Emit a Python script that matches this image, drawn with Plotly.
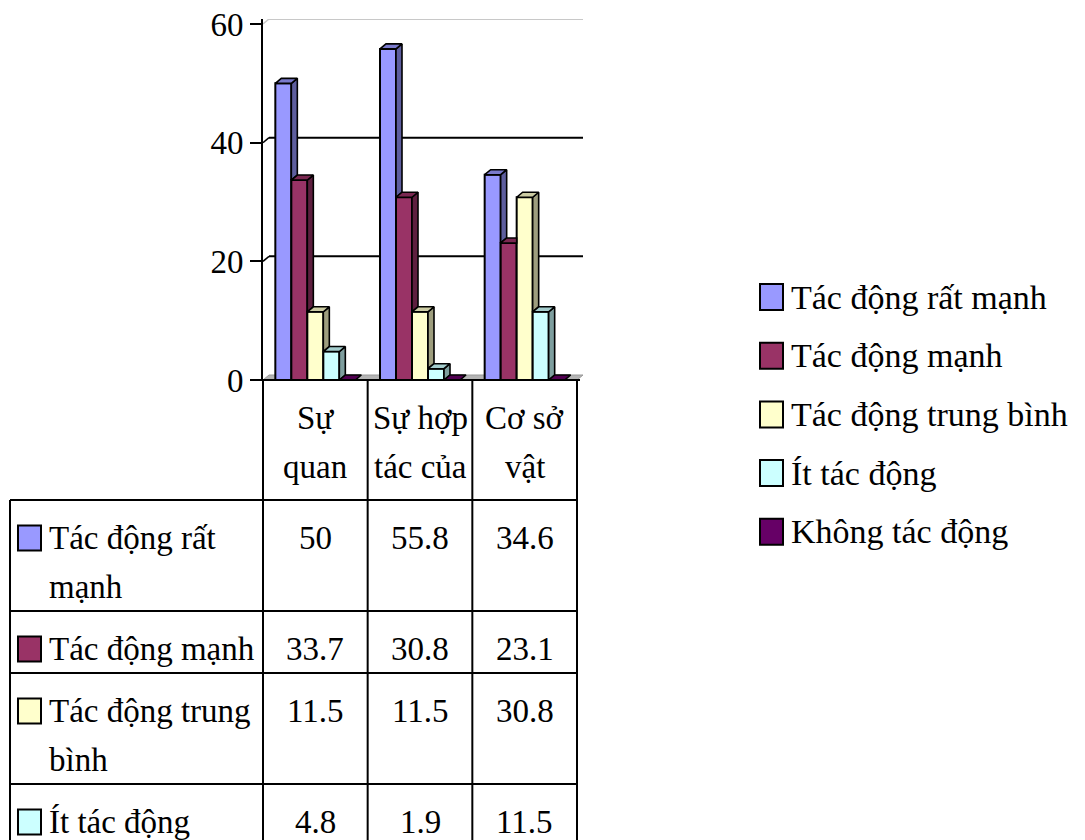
import plotly.graph_objects as go

# ---------------------------------------------------------------- data
categories = ["Sự quan", "Sự hợp tác của", "Cơ sở vật"]
category_lines = [["Sự", "quan"], ["Sự hợp", "tác của"], ["Cơ sở", "vật"]]

series_names = ["Tác động rất mạnh", "Tác động mạnh", "Tác động trung bình",
                "Ít tác động", "Không tác động"]
row_label_lines = [["Tác động rất", "mạnh"], ["Tác động mạnh"],
                   ["Tác động trung", "bình"], ["Ít tác động"], ["Không tác động"]]

tac_dong_rat_manh = [50, 55.8, 34.6]
tac_dong_manh = [33.7, 30.8, 23.1]
tac_dong_trung_binh = [11.5, 11.5, 30.8]
it_tac_dong = [4.8, 1.9, 11.5]
khong_tac_dong = [0, 0, 0]

y_ticks = [0, 20, 40, 60]

series_values = [tac_dong_rat_manh, tac_dong_manh, tac_dong_trung_binh,
                 it_tac_dong, khong_tac_dong]
front_colors = ["#9999FF", "#993366", "#FFFFCC", "#CCFFFF", "#660066"]

# ---------------------------------------------------------------- geometry (pixels)
W, H = 1085, 840
FONT = "Liberation Serif"
PLOT_L, PLOT_R = 263, 577          # front plane of the category axis
Y_BOTTOM, Y_TOP = 380, 24          # pixel rows of 0 and 60
DEPTH_X, DEPTH_Y = 6, 5            # oblique depth of the 3-D boxes
BAR_PX = 16

n_cat = len(categories)
ppu_x = (PLOT_R - PLOT_L) / n_cat
ppu_y = (Y_BOTTOM - Y_TOP) / (y_ticks[-1] - y_ticks[0])
dxu = DEPTH_X / ppu_x
dyu = DEPTH_Y / ppu_y
bar_w = BAR_PX / ppu_x
n_ser = len(series_names)


def px(x):
    return x / W


def py(y):
    return 1 - y / H


def shade(hex_color, k):
    h = hex_color.lstrip("#")
    r, g, b = (int(h[i:i + 2], 16) for i in (0, 2, 4))
    return "rgb({},{},{})".format(int(r * k), int(g * k), int(b * k))


fig = go.Figure()

# front faces of the boxes
for j, (name, vals, col) in enumerate(zip(series_names, series_values, front_colors)):
    xs = [i + (j - (n_ser - 1) / 2) * bar_w for i in range(n_cat)]
    fig.add_trace(go.Bar(
        x=xs, y=vals, width=bar_w, name=name,
        marker=dict(color=col, line=dict(color="black", width=2)),
        showlegend=False, hoverinfo="skip",
    ))


def face(xs, ys, color):
    fig.add_trace(go.Scatter(
        x=xs + [xs[0]], y=ys + [ys[0]], mode="lines", fill="toself",
        fillcolor=color, line=dict(color="black", width=1.6),
        showlegend=False, hoverinfo="skip",
    ))


# top and side faces, left to right so nearer faces cover farther ones
for i in range(n_cat):
    for j in range(n_ser):
        v = series_values[j][i]
        xl = i + (j - n_ser / 2) * bar_w
        xr = xl + bar_w
        nxt = series_values[j + 1][i] if j + 1 < n_ser else None
        col = front_colors[j]
        # side face (the part not hidden by the next box)
        base = 0 if nxt is None else nxt
        if v > base:
            face([xr, xr, xr + dxu, xr + dxu],
                 [base, v, v + dyu, base + dyu], shade(col, 0.62))
        # top face
        if nxt is not None and nxt >= v and v > 0:
            face([xl, xr, xr, xl + dxu], [v, v, v + dyu, v + dyu], shade(col, 0.8))
        else:
            face([xl, xr, xr + dxu, xl + dxu], [v, v, v + dyu, v + dyu], shade(col, 0.8))

shapes = []
# floor and back-wall gridlines
x0, x1 = -0.5, n_cat - 0.5
shapes.append(dict(type="path", xref="x", yref="y", layer="below",
                   path="M{},{} L{},{} L{},{} L{},{} Z".format(
                       x0, 0, x1, 0, x1 + dxu, dyu, x0 + dxu, dyu),
                   fillcolor="#B4B4B4", line=dict(color="#999999", width=1)))
for v in y_ticks[1:]:
    col = "#C8C8C8" if v == y_ticks[-1] else "black"
    shapes.append(dict(type="line", xref="x", yref="y", layer="below",
                       x0=x0 + dxu, x1=x1 + dxu, y0=v + dyu, y1=v + dyu,
                       line=dict(color=col, width=2)))
    shapes.append(dict(type="line", xref="x", yref="y", layer="below",
                       x0=x0, x1=x0 + dxu, y0=v, y1=v + dyu,
                       line=dict(color=col, width=1.5)))


def pline(xa, ya, xb, yb, width=2, color="black"):
    shapes.append(dict(type="line", xref="paper", yref="paper",
                       x0=px(xa), y0=py(ya), x1=px(xb), y1=py(yb),
                       line=dict(color=color, width=width)))


# category axis line
pline(PLOT_L - 11, Y_BOTTOM, PLOT_R + 3, Y_BOTTOM)

# ---------------------------------------------------------------- data table
TABLE_L = 10
HEADER_BOTTOM = 500
LINE_GAP = 49
ROW_PAD = 62 - LINE_GAP
col_edges = [PLOT_L + k * (PLOT_R - PLOT_L) / n_cat for k in range(n_cat + 1)]

row_tops = [HEADER_BOTTOM]
for lines in row_label_lines:
    row_tops.append(row_tops[-1] + ROW_PAD + LINE_GAP * len(lines))
# rows that start inside the page
shown_rows = [r for r in range(len(row_label_lines)) if row_tops[r] < H]
table_bottom = min(row_tops[-1], H + 4)

for xe in col_edges:
    pline(xe, Y_BOTTOM, xe, table_bottom)
pline(TABLE_L, HEADER_BOTTOM, TABLE_L, table_bottom)
for yt in row_tops:
    if yt < H:
        pline(TABLE_L, yt, PLOT_R, yt)

annotations = []


def text(x, y, s, anchor="center", size=33):
    annotations.append(dict(xref="paper", yref="paper", x=px(x), y=py(y),
                            text=s, showarrow=False, xanchor=anchor, yanchor="middle",
                            font=dict(family=FONT, size=size, color="black")))


def swatch(xc, yc, color, w=23, h=25):
    shapes.append(dict(type="rect", xref="paper", yref="paper",
                       x0=px(xc - w / 2), x1=px(xc + w / 2),
                       y0=py(yc + h / 2), y1=py(yc - h / 2),
                       fillcolor=color, line=dict(color="black", width=2)))


FIRST_LINE = 38
for i, lines in enumerate(category_lines):
    xc = (col_edges[i] + col_edges[i + 1]) / 2
    for k, s in enumerate(lines):
        text(xc, Y_BOTTOM + FIRST_LINE + k * LINE_GAP, s)

for r in shown_rows:
    lines = row_label_lines[r]
    top = row_tops[r]
    swatch(29.5, top + FIRST_LINE, front_colors[r])
    for k, s in enumerate(lines):
        text(47, top + FIRST_LINE + k * LINE_GAP, s, anchor="left")
    for i in range(n_cat):
        xc = (col_edges[i] + col_edges[i + 1]) / 2
        text(xc, top + FIRST_LINE, "{:g}".format(series_values[r][i]))

# ---------------------------------------------------------------- legend
LEG_Y0, LEG_STEP = 297, 58.7
for j, name in enumerate(series_names):
    yc = LEG_Y0 + j * LEG_STEP
    swatch(771.5, yc, front_colors[j], w=23, h=26)
    text(789, yc, name, anchor="left", size=34)

fig.update_layout(
    width=W, height=H,
    margin=dict(l=0, r=0, t=0, b=0, autoexpand=False),
    paper_bgcolor="white", plot_bgcolor="rgba(0,0,0,0)",
    barmode="overlay",
    showlegend=False,
    shapes=shapes,
    annotations=annotations,
    xaxis=dict(range=[x0, x1 + dxu],
               domain=[px(PLOT_L), px(PLOT_R + DEPTH_X)],
               showticklabels=False, showgrid=False, zeroline=False,
               showline=False, ticks="", fixedrange=True, automargin=False),
    yaxis=dict(range=[y_ticks[0], y_ticks[-1] + dyu],
               domain=[py(Y_BOTTOM), py(Y_TOP - DEPTH_Y)],
               tickvals=y_ticks, ticks="outside", ticklen=11, tickwidth=2,
               tickcolor="black", showline=True, linecolor="black", linewidth=2,
               showgrid=False, zeroline=False, automargin=False,
               tickfont=dict(family=FONT, size=33, color="black"),
               fixedrange=True),
)

fig.write_html("out.html")
